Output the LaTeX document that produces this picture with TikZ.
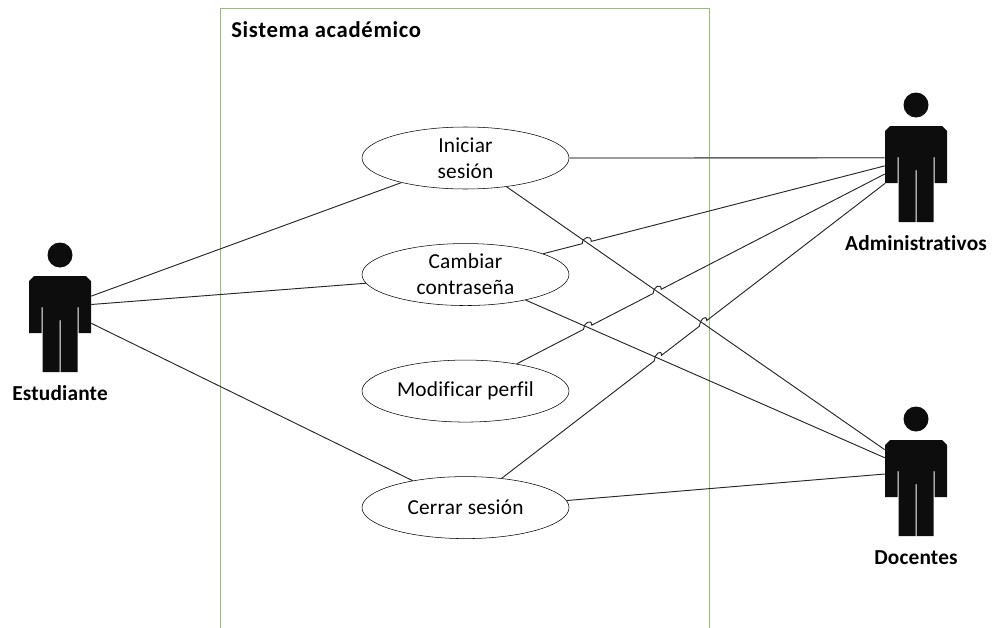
\documentclass[tikz,border=0pt]{standalone}
\usepackage{fontspec}
\setmainfont{Carlito}[Ligatures=NoCommon,LetterSpace=1]
\newfontfamily\labelfont{Carlito}[Ligatures=NoCommon,LetterSpace=0.8]
\newfontfamily\titlefont{Carlito}[Ligatures=NoCommon,LetterSpace=3]
\usetikzlibrary{shapes.geometric,calc,intersections}
\definecolor{framegreen}{RGB}{150,190,120}
\definecolor{actorblack}{RGB}{13,13,13}
\newcommand{\actor}[3]{
    \node[actorbody] (#1) at (#2) {};
    \begin{scope}[shift={(#2)}]
        \node[actorhead] (#1head) at (0,-49.5) {};
        \fill[actorblack] (-31,-23.5) -- (-26,-28.5) -- (26,-28.5) -- (31,-23.5) -- (31,28.5) -- (18.5,28.5) -- (18.5,2.5) -- (17.5,2.5) -- (17.5,67.5) -- (0.5,67.5) -- (0.5,15.5) -- (-0.5,15.5) -- (-0.5,67.5) -- (-17.5,67.5) -- (-17.5,2.5) -- (-18.5,2.5) -- (-18.5,28.5) -- (-31,28.5) -- cycle;
        \node[actorlabel] (#1label) at (0,96) {#3};
    \end{scope}
}
\newcommand{\hopover}[3]{-- ($(#1)!3.5pt!(#2)$) .. controls +(0,5pt) and +(0,5pt) .. ($(#1)!3.5pt!(#3)$)}

\begin{document}
\begin{tikzpicture}[x=0.75pt,y=-0.75pt,node distance=87.4pt]
    \tikzstyle{usecase} = [ellipse, draw, fill=white, inner sep=0pt, minimum width=155.25pt, minimum height=46.5pt, text centered, align=center, font=\fontsize{16}{19.5}\selectfont]
    \tikzstyle{actorbody} = [rectangle, inner sep=0pt, minimum width=46.5pt, minimum height=42.75pt]
    \tikzstyle{actorhead} = [circle, fill=actorblack, inner sep=0pt, minimum size=18.75pt]
    \tikzstyle{actorlabel} = [anchor=base, inner sep=0pt, font=\labelfont\fontsize{16}{19}\selectfont\bfseries]
    \tikzstyle{conn} = [line width=0.7pt, black!85]
    \useasboundingbox (0,0) rectangle (1000,628);

    \draw[framegreen, line width=0.75pt] (220,628) -- (220,8) -- (709,8) -- (709,628);
    \node[anchor=base west, inner sep=0pt, font=\titlefont\fontsize{17}{20}\selectfont\bfseries] (sistema) at (231,37) {Sistema académico};

    \node[usecase] (iniciar) at (465.5,158) {Iniciar\\sesión};
    \node[usecase, below of=iniciar] (cambiar) {Cambiar\\contraseña};
    \node[usecase, below of=cambiar] (modificar) {Modificar perfil};
    \node[usecase, below of=modificar] (cerrar) {Cerrar sesión};

    \actor{estudiante}{60,304.5}{Estudiante}
    \actor{administrativos}{916,154.5}{Administrativos}
    \actor{docentes}{916,468.5}{Docentes}

    \draw[conn] (estudiante.15) -- (iniciar.201);
    \draw[conn] (estudiante.east) -- (cambiar.185);
    \draw[conn] (estudiante.329) -- (cerrar.153);
    \draw[line width=1pt, black!60] (iniciar.east) -- (administrativos.186);
    \draw[conn, name path=iniciardoc] (iniciar.325) -- (docentes.149);
    \draw[conn, name path=cambiardoc] (cambiar.337) -- (docentes.161);
    \draw[conn] (cerrar.4) -- (docentes.190);

    \path[name path=cambiaradm] (cambiar.15) -- (administrativos.200);
    \path[name path=modificaradm] (modificar.28) -- (administrativos.212);
    \path[name path=cerraradm] (cerrar.39) -- (administrativos.223);
    \path[name intersections={of=iniciardoc and cambiaradm, by=hopa}];
    \path[name intersections={of=cambiardoc and modificaradm, by=hopb}];
    \path[name intersections={of=iniciardoc and modificaradm, by=hopc}];
    \path[name intersections={of=cambiardoc and cerraradm, by=hopd}];
    \path[name intersections={of=iniciardoc and cerraradm, by=hope}];

    \draw[conn] (cambiar.15) \hopover{hopa}{cambiar.15}{administrativos.200} -- (administrativos.200);
    \draw[conn] (modificar.28) \hopover{hopb}{modificar.28}{administrativos.212} \hopover{hopc}{modificar.28}{administrativos.212} -- (administrativos.212);
    \draw[conn] (cerrar.39) \hopover{hopd}{cerrar.39}{administrativos.223} \hopover{hope}{cerrar.39}{administrativos.223} -- (administrativos.223);
\end{tikzpicture}
\end{document}
